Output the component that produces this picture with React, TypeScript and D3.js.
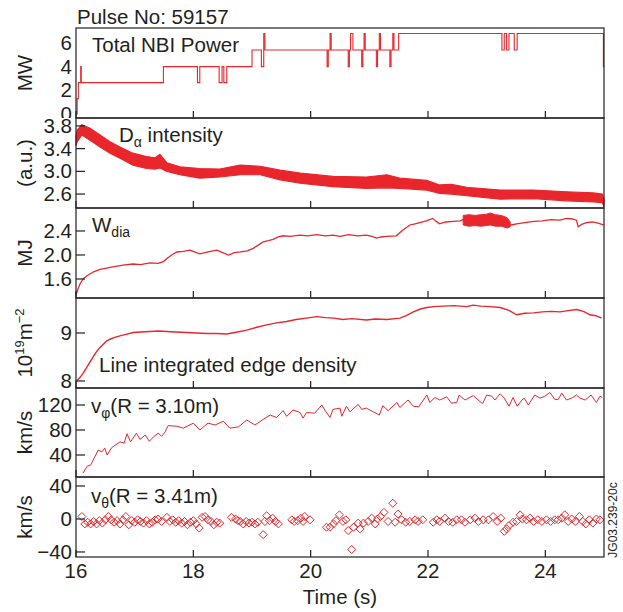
import React from "react";
import * as d3 from "d3";

// ---------- DATA ----------
const xTicks = [16, 18, 20, 22, 24];

// Panel 1: Total NBI power (step changes)
const nbiT = [16.0, 16.02, 16.04, 16.08, 16.09, 17.49, 18.07, 18.11, 18.44, 18.49, 18.52, 18.57, 19.0, 19.16, 19.2, 19.22,
  20.28, 20.3, 20.33, 20.35, 20.64, 20.66, 20.68, 20.72, 20.87, 20.89, 20.91, 20.93, 21.12, 21.14, 21.17, 21.19,
  21.35, 21.37, 21.4, 21.42, 21.5, 23.26, 23.3, 23.34, 23.38, 23.47, 23.52, 24.99, 25.0];
const nbiP = [0, 1.3, 2.65, 4.0, 2.65, 4.0, 2.65, 4.0, 2.65, 4.0, 2.65, 4.0, 5.4, 4.0, 6.8, 5.4,
  4.0, 5.4, 6.8, 5.4, 4.0, 5.4, 6.8, 5.4, 4.0, 5.4, 6.8, 5.4, 4.0, 5.4, 6.8, 5.4,
  4.0, 5.4, 6.8, 5.4, 6.8, 5.4, 6.8, 5.4, 6.8, 5.4, 6.8, 4.0, 4.0];

// Panel 2: D-alpha intensity band (lower / upper envelope)
const daT = [16.0, 16.02, 16.1, 16.24, 16.41, 16.58, 16.75, 16.97, 17.2, 17.35, 17.43, 17.55, 17.77, 18.11, 18.45, 18.8, 19.14, 19.48, 19.82, 20.38, 20.95, 21.3, 21.52, 21.98, 22.2, 22.4, 22.66, 23.23, 23.8, 24.36, 24.82, 24.97, 25.0];
const daHi = [3.62, 3.73, 3.82, 3.76, 3.64, 3.52, 3.43, 3.32, 3.26, 3.24, 3.3, 3.15, 3.08, 3.05, 3.04, 3.11, 3.09, 3.02, 2.97, 2.91, 2.9, 2.94, 2.88, 2.84, 2.76, 2.77, 2.72, 2.67, 2.67, 2.64, 2.62, 2.6, 2.5];
const daLo = [3.45, 3.52, 3.64, 3.55, 3.43, 3.32, 3.23, 3.11, 3.05, 3.04, 3.06, 3.0, 2.94, 2.88, 2.9, 2.94, 2.94, 2.85, 2.79, 2.73, 2.7, 2.71, 2.7, 2.67, 2.61, 2.6, 2.57, 2.51, 2.52, 2.48, 2.46, 2.45, 2.38];

// Panel 3: W_dia
const wT = [16.0, 16.04, 16.07, 16.12, 16.18, 16.3, 16.41, 16.52, 16.63, 16.8, 16.97, 17.1, 17.26, 17.4, 17.49, 17.55, 17.63, 17.72, 17.83, 17.94,
  18.02, 18.11, 18.25, 18.4, 18.5, 18.6, 18.7, 18.8, 18.92, 19.02, 19.1, 19.19, 19.28, 19.36, 19.45, 19.53, 19.65, 19.82, 19.95, 20.1,
  20.25, 20.38, 20.5, 20.65, 20.8, 20.95, 21.05, 21.12, 21.2, 21.3, 21.46, 21.55, 21.69, 21.78, 21.86, 21.97, 22.08, 22.14, 22.2, 22.3,
  22.43, 22.55, 22.62, 22.8, 23.0, 23.2, 23.35, 23.42, 23.51, 23.65, 23.8, 23.95, 24.1, 24.25, 24.36, 24.46, 24.53, 24.56, 24.62, 24.7,
  24.8, 24.9, 24.99];
const wV = [1.33, 1.45, 1.52, 1.6, 1.65, 1.72, 1.76, 1.78, 1.8, 1.83, 1.85, 1.84, 1.87, 1.86, 1.89, 1.94, 2.0, 2.05, 2.06, 2.08,
  2.05, 2.02, 2.05, 2.08, 2.04, 2.0, 2.04, 2.05, 2.07, 2.11, 2.16, 2.22, 2.24, 2.26, 2.3, 2.32, 2.31, 2.33, 2.32, 2.34,
  2.32, 2.33, 2.31, 2.34, 2.32, 2.33, 2.31, 2.28, 2.3, 2.31, 2.32, 2.4, 2.5, 2.52, 2.54, 2.57, 2.61, 2.56, 2.52, 2.55,
  2.56, 2.57, 2.6, 2.58, 2.6, 2.58, 2.52, 2.5, 2.52, 2.54, 2.56, 2.57, 2.59, 2.58, 2.61, 2.6, 2.58, 2.47, 2.51, 2.54,
  2.55, 2.53, 2.5];
const wbT = [22.6, 22.7, 22.8, 22.9, 23.0, 23.06, 23.15, 23.25, 23.35, 23.4];
const wbHi = [2.66, 2.67, 2.66, 2.67, 2.68, 2.7, 2.67, 2.66, 2.62, 2.55];
const wbLo = [2.5, 2.48, 2.49, 2.48, 2.49, 2.5, 2.48, 2.48, 2.45, 2.47];

// Panel 4: line integrated edge density
const nT = [16.0, 16.06, 16.12, 16.18, 16.24, 16.3, 16.35, 16.41, 16.47, 16.52, 16.58, 16.66, 16.75, 16.85, 16.98, 17.1, 17.26, 17.4, 17.55, 17.7,
  17.89, 18.05, 18.23, 18.4, 18.57, 18.75, 18.91, 19.08, 19.25, 19.42, 19.59, 19.75, 19.93, 20.1, 20.25, 20.39, 20.55, 20.7, 20.95, 21.1,
  21.3, 21.52, 21.63, 21.75, 21.87, 21.98, 22.1, 22.26, 22.45, 22.66, 22.77, 22.9, 23.05, 23.23, 23.38, 23.51, 23.65, 23.8, 23.95, 24.1,
  24.25, 24.36, 24.53, 24.65, 24.76, 24.86, 24.96];
const nV = [7.99, 8.06, 8.16, 8.28, 8.4, 8.52, 8.61, 8.7, 8.77, 8.83, 8.87, 8.91, 8.94, 8.97, 9.01, 9.02, 9.03, 9.04, 9.03, 9.02,
  9.01, 9.0, 8.99, 8.99, 8.98, 9.02, 9.06, 9.12, 9.17, 9.21, 9.24, 9.28, 9.31, 9.34, 9.32, 9.31, 9.28, 9.3, 9.27, 9.29,
  9.28, 9.31, 9.36, 9.44, 9.5, 9.53, 9.55, 9.56, 9.57, 9.55, 9.58, 9.56, 9.55, 9.53, 9.47, 9.38, 9.41, 9.42, 9.44, 9.45,
  9.44, 9.46, 9.49, 9.45, 9.38, 9.36, 9.31];

// Panel 5: v_phi (R = 3.10 m)
const vpT = [16.12, 16.19, 16.25, 16.38, 16.44, 16.49, 16.53, 16.61, 16.75, 16.82, 16.87, 16.93, 17.03, 17.09, 17.18, 17.25, 17.32, 17.4, 17.46, 17.52,
  17.57, 17.72, 17.83, 18.0, 18.11, 18.25, 18.37, 18.51, 18.62, 18.77, 18.91, 19.05, 19.19, 19.31, 19.42, 19.53, 19.59, 19.7, 19.82, 19.87,
  19.93, 20.07, 20.19, 20.24, 20.33, 20.38, 20.5, 20.53, 20.61, 20.67, 20.81, 20.87, 20.95, 21.07, 21.17, 21.23, 21.32, 21.47, 21.52, 21.66,
  21.75, 21.84, 21.98, 22.03, 22.12, 22.2, 22.32, 22.4, 22.49, 22.53, 22.63, 22.77, 22.93, 23.0, 23.09, 23.14, 23.23, 23.3, 23.38, 23.45,
  23.52, 23.6, 23.64, 23.71, 23.82, 23.91, 23.99, 24.08, 24.16, 24.22, 24.28, 24.36, 24.45, 24.53, 24.59, 24.68, 24.78, 24.87, 24.93, 24.97];
const vpV = [11, 22, 24, 48, 45, 51, 40, 52, 61, 59, 74, 61, 75, 65, 72, 62, 69, 75, 70, 77,
  87, 86, 83, 91, 80, 91, 88, 94, 83, 85, 96, 88, 97, 104, 100, 111, 102, 112, 108, 99,
  108, 107, 120, 112, 100, 113, 115, 102, 118, 109, 121, 113, 115, 109, 104, 119, 111, 124, 116, 128,
  118, 117, 136, 124, 132, 128, 133, 123, 124, 136, 128, 135, 122, 136, 134, 128, 138, 131, 118, 132,
  118, 128, 131, 120, 136, 131, 134, 140, 129, 129, 139, 128, 131, 136, 131, 128, 136, 124, 134, 132];

// Panel 6: v_theta (R = 3.41 m)
const vtT = [16.1, 16.15, 16.2, 16.25, 16.3, 16.35, 16.4, 16.45, 16.5, 16.55, 16.6, 16.65, 16.7, 16.75, 16.8, 16.85, 16.9, 16.95, 17.0, 17.05,
  17.1, 17.15, 17.2, 17.25, 17.3, 17.35, 17.4, 17.46, 17.55, 17.6, 17.65, 17.7, 17.75, 17.8, 17.85, 17.9, 17.95, 18.0, 18.05, 18.1,
  18.15, 18.2, 18.25, 18.3, 18.35, 18.4, 18.45, 18.65, 18.72, 18.76, 18.8, 18.85, 18.9, 18.95, 19.0, 19.05, 19.1, 19.19, 19.22, 19.25,
  19.3, 19.35, 19.4, 19.45, 19.68, 19.72, 19.78, 19.83, 19.87, 19.9, 19.99, 20.27, 20.33, 20.39, 20.43, 20.49, 20.55, 20.6, 20.64, 20.7,
  20.73, 20.81, 20.84, 20.9, 20.98, 21.04, 21.1, 21.14, 21.19, 21.25, 21.32, 21.4, 21.44, 21.49, 21.55, 21.62, 21.69, 21.78, 21.83, 21.91,
  22.09, 22.15, 22.2, 22.29, 22.35, 22.42, 22.49, 22.57, 22.63, 22.72, 22.8, 22.86, 22.94, 23.03, 23.11, 23.18, 23.24, 23.3, 23.34, 23.38,
  23.45, 23.51, 23.57, 23.61, 23.68, 23.74, 23.8, 23.87, 23.94, 24.02, 24.09, 24.16, 24.22, 24.28, 24.33, 24.39, 24.45, 24.51, 24.58, 24.64,
  24.69, 24.75, 24.81, 24.87, 24.93];
const vtV = [3, -6, -4, -6, -3, -6, -2, -5, -1, 3, -1, -4, -2, -6, -1, 3, -7, -2, -4, -1,
  -3, -5, -2, -6, -4, -1, 0, -3, 2, -3, -1, -4, -2, -5, -3, -7, -4, -2, -6, -11,
  2, 3, -1, -3, -7, -4, -5, 2, 0, -2, -3, -6, -3, -5, -4, -6, -4, -19, -3, 4,
  -2, 1, -3, -6, -1, -3, -2, 1, -3, 3, -1, -10, -10, -6, -2, 5, -3, -1, -14, -37,
  -10, -5, -12, -5, -3, 1, -6, 0, 3, 8, -3, 19, -4, 6, -1, -4, -3, -1, -3, -1,
  -4, -1, -3, 1, -3, -4, -1, -1, -4, -1, 1, -3, -1, -1, 3, -3, 1, -15, -12, -8,
  -4, -3, 5, 0, -1, 1, -3, -1, -3, -1, -3, -1, -1, 1, 5, -3, 0, -3, 3, -3,
  -6, -1, -5, 0, -1];

// ---------- LAYOUT ----------
const W = 623, H = 612;
const X0 = 76, X1 = 604;
const RED = "#e8262c";
const INK = "#231f20";
const FONT = "'Liberation Sans', Arial, Helvetica, sans-serif";

type Panel = { top: number; bottom: number; domain: [number, number]; ticks: number[]; fmt: (v: number) => string };
const panels: Panel[] = [
  { top: 28, bottom: 118, domain: [-0.34, 7.26], ticks: [0, 2, 4, 6], fmt: (v) => String(v) },
  { top: 118, bottom: 208, domain: [2.354, 3.94], ticks: [2.6, 3.0, 3.4, 3.8], fmt: (v) => v.toFixed(1) },
  { top: 208, bottom: 298, domain: [1.283, 2.783], ticks: [1.6, 2.0, 2.4], fmt: (v) => v.toFixed(1) },
  { top: 298, bottom: 388, domain: [7.854, 9.729], ticks: [8, 9], fmt: (v) => String(v) },
  { top: 388, bottom: 477, domain: [4.8, 147.2], ticks: [40, 80, 120], fmt: (v) => String(v) },
  { top: 477, bottom: 557, domain: [-46.1, 50.9], ticks: [-40, 0, 40], fmt: (v) => (v < 0 ? "\u2212" + Math.abs(v) : String(v)) },
];

export default function App() {
  const x = d3.scaleLinear().domain([16, 25]).range([X0, X1]);
  const ys = panels.map((p) => d3.scaleLinear().domain(p.domain).range([p.bottom, p.top]));

  const nbiPath = d3.line<number>().x((_, i) => x(nbiT[i])).y((d) => ys[0](d)).curve(d3.curveStepAfter)(nbiP) || "";
  const daArea = d3.area<number>().x((_, i) => x(daT[i])).y0((_, i) => ys[1](daLo[i])).y1((d) => ys[1](d))(daHi) || "";
  const wPath = d3.line<number>().x((_, i) => x(wT[i])).y((d) => ys[2](d))(wV) || "";
  const wbArea = d3.area<number>().x((_, i) => x(wbT[i])).y0((_, i) => ys[2](wbLo[i])).y1((d) => ys[2](d))(wbHi) || "";
  const nPath = d3.line<number>().x((_, i) => x(nT[i])).y((d) => ys[3](d))(nV) || "";
  const vpPath = d3.line<number>().x((_, i) => x(vpT[i])).y((d) => ys[4](d))(vpV) || "";

  const yLabels = ["MW", "(a.u.)", "MJ", "", "km/s", "km/s"];
  const fs = 20.5;

  return (
    <svg width={W} height={H} style={{ position: "absolute", left: 0, top: 0, background: "#fff" }} fontFamily={FONT}>
      <defs>
        <clipPath id="clipTop"><rect x={0} y={0} width={X0} height={118} /></clipPath>
      </defs>
      <rect x={0} y={0} width={W} height={H} fill="#fff" />
      {/* data */}
      <path d={nbiPath} fill="none" stroke={RED} strokeWidth={1.1} />
      <path d={daArea} fill={RED} stroke={RED} strokeWidth={1.2} />
      <path d={wPath} fill="none" stroke={RED} strokeWidth={1.3} />
      <path d={wbArea} fill={RED} stroke={RED} strokeWidth={1} />
      <path d={nPath} fill="none" stroke={RED} strokeWidth={1.4} />
      <path d={vpPath} fill="none" stroke={RED} strokeWidth={1} />
      {vtV.map((v, i) => {
        const cx = x(vtT[i]), cy = ys[5](v), r = 4;
        return (
          <path key={i} d={`M${cx},${cy - r}L${cx + r},${cy}L${cx},${cy + r}L${cx - r},${cy}Z`} fill="none" stroke={RED} strokeWidth={1} />
        );
      })}

      {/* frames, ticks */}
      {panels.map((p, pi) => (
        <g key={pi}>
          <rect x={X0} y={p.top} width={X1 - X0} height={p.bottom - p.top} fill="none" stroke={INK} strokeWidth={1.2} />
          {xTicks.map((t) => (
            <line key={t} x1={x(t)} x2={x(t)} y1={p.bottom} y2={p.bottom - 7} stroke={INK} strokeWidth={1.2} />
          ))}
          <g clipPath={pi === 0 ? "url(#clipTop)" : undefined}>
            {p.ticks.map((t) => (
              <g key={t}>
                <line x1={X0} x2={X0 + 9} y1={ys[pi](t)} y2={ys[pi](t)} stroke={INK} strokeWidth={1.2} />
                <text x={72} y={ys[pi](t) + 7} textAnchor="end" fontSize={fs} fill={INK}>{p.fmt(t)}</text>
              </g>
            ))}
          </g>
          {yLabels[pi] && (
            <text transform={`translate(32,${(p.top + p.bottom) / 2}) rotate(-90)`} textAnchor="middle" fontSize={fs} fill={INK}>
              {yLabels[pi]}
            </text>
          )}
        </g>
      ))}
      <text transform={`translate(32,${(panels[3].top + panels[3].bottom) / 2}) rotate(-90)`} textAnchor="middle" fontSize={fs} fill={INK}>
        10<tspan fontSize={13} dy={-8}>19</tspan><tspan dy={8}>m</tspan><tspan fontSize={13} dy={-8}>{"\u22122"}</tspan>
      </text>

      {/* x tick labels */}
      {xTicks.map((t) => (
        <text key={t} x={x(t)} y={578} textAnchor="middle" fontSize={fs} fill={INK}>{t}</text>
      ))}
      <text x={340} y={604} textAnchor="middle" fontSize={fs} fill={INK}>Time (s)</text>

      {/* titles / annotations */}
      <text x={77} y={24} fontSize={fs} fill={INK}>Pulse No: 59157</text>
      <text x={92} y={52} fontSize={fs} fill={INK}>Total NBI Power</text>
      <text x={119} y={142} fontSize={fs} fill={INK}>D<tspan fontSize={14} dy={5}>{"\u03b1"}</tspan><tspan dy={-5}> intensity</tspan></text>
      <text x={92} y={232} fontSize={fs} fill={INK}>W<tspan fontSize={14} dy={5}>dia</tspan></text>
      <text x={99} y={372} fontSize={fs} fill={INK}>Line integrated edge density</text>
      <text x={91} y={413} fontSize={fs} fill={INK}>v<tspan fontSize={14} dy={5}>{"\u03c6"}</tspan><tspan dy={-5}>(R = 3.10m)</tspan></text>
      <text x={91} y={503} fontSize={fs} fill={INK}>v<tspan fontSize={14} dy={5}>{"\u03b8"}</tspan><tspan dy={-5}>(R = 3.41m)</tspan></text>
      <text transform="translate(617,520) rotate(-90)" textAnchor="middle" fontSize={12} fill={INK}>JG03.239-20c</text>
    </svg>
  );
}
